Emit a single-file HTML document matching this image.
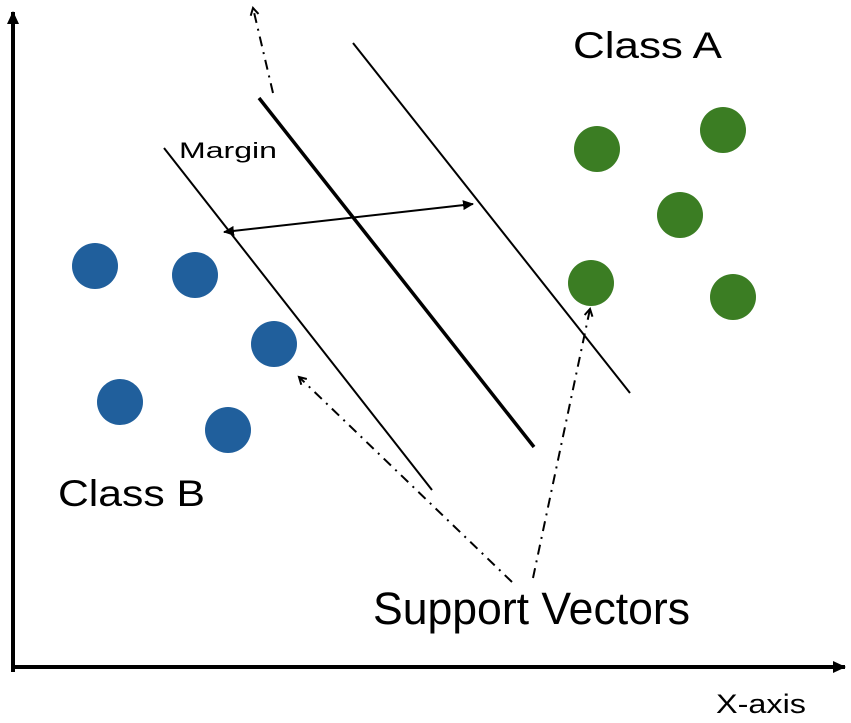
<!DOCTYPE html>
<html><head><meta charset="utf-8"><style>html,body{margin:0;padding:0;background:#fff}svg{display:block}</style></head>
<body>
<svg width="851" height="723" viewBox="0 0 851 723" xmlns="http://www.w3.org/2000/svg">
<defs>
<marker id="open" markerWidth="10" markerHeight="10" refX="8" refY="5" orient="auto" markerUnits="userSpaceOnUse"><path d="M1,1 L8,5 L1,9" fill="none" stroke="#000" stroke-width="2"/></marker>
<marker id="tri" markerWidth="14" markerHeight="12" refX="12" refY="6" orient="auto" markerUnits="userSpaceOnUse"><path d="M0,0 L13,6 L0,12 Z" fill="#000"/></marker>
<marker id="tri2" markerWidth="12" markerHeight="10" refX="10" refY="5" orient="auto-start-reverse" markerUnits="userSpaceOnUse"><path d="M0,0 L11,5 L0,10 Z" fill="#000"/></marker>
</defs>
<line x1="13" y1="672" x2="13" y2="12" stroke="#000" stroke-width="4" marker-end="url(#tri)"/>
<line x1="11" y1="667" x2="845" y2="667" stroke="#000" stroke-width="4" marker-end="url(#tri)"/>
<line x1="164" y1="148" x2="432" y2="490" stroke="#000" stroke-width="2"/>
<line x1="259" y1="98" x2="534" y2="447" stroke="#000" stroke-width="3.5"/>
<line x1="353" y1="43" x2="630" y2="393" stroke="#000" stroke-width="2"/>
<line x1="273" y1="93" x2="253" y2="8" stroke="#000" stroke-width="2" stroke-dasharray="10,6,2,6" marker-end="url(#open)"/>
<line x1="224" y1="232" x2="473" y2="204" stroke="#000" stroke-width="2" marker-start="url(#tri2)" marker-end="url(#tri2)"/>
<line x1="512" y1="582" x2="299" y2="377" stroke="#000" stroke-width="2" stroke-dasharray="10,6,2,6" marker-end="url(#open)"/>
<line x1="533" y1="578" x2="590" y2="309" stroke="#000" stroke-width="2" stroke-dasharray="10,6,2,6" marker-end="url(#open)"/>
<g fill="#205f9c">
<circle cx="95" cy="266" r="23"/><circle cx="195" cy="275" r="23"/><circle cx="274" cy="344" r="23"/><circle cx="120" cy="402" r="23"/><circle cx="228" cy="430" r="23"/>
</g>
<g fill="#3b7d23">
<circle cx="597" cy="149" r="23"/><circle cx="723" cy="130" r="23"/><circle cx="680" cy="215" r="23"/><circle cx="591" cy="283" r="23"/><circle cx="733" cy="297" r="23"/>
</g>
<g font-family="Liberation Sans, sans-serif" fill="#000">
<text x="573" y="58" font-size="37" textLength="149" lengthAdjust="spacingAndGlyphs">Class A</text>
<text x="58" y="506" font-size="37" textLength="147" lengthAdjust="spacingAndGlyphs">Class B</text>
<text x="179" y="158" font-size="22" textLength="98" lengthAdjust="spacingAndGlyphs">Margin</text>
<text x="373" y="624" font-size="45" textLength="317" lengthAdjust="spacingAndGlyphs">Support Vectors</text>
<text x="716" y="713" font-size="27" textLength="90" lengthAdjust="spacingAndGlyphs">X-axis</text>
</g>
</svg>
</body></html>
